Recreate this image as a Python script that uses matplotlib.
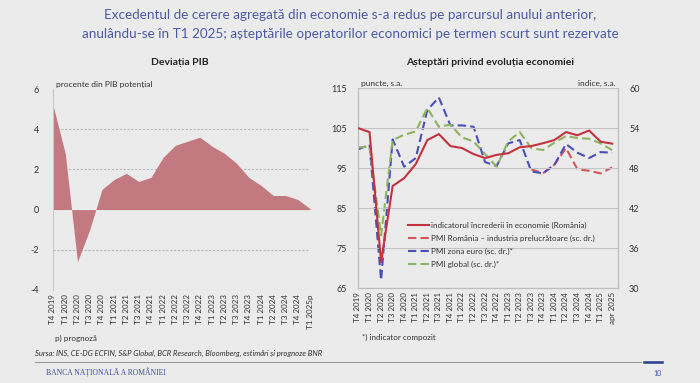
import numpy as np
import matplotlib
matplotlib.use("Agg")
import matplotlib.pyplot as plt

plt.rcParams['font.family'] = ['Lato', 'DejaVu Sans']
plt.rcParams['axes.unicode_minus'] = False

# Deviatia PIB (procente din PIB potential)
gap_labels = ['T4 2019', 'T1 2020', 'T2 2020', 'T3 2020', 'T4 2020',
              'T1 2021', 'T2 2021', 'T3 2021', 'T4 2021',
              'T1 2022', 'T2 2022', 'T3 2022', 'T4 2022',
              'T1 2023', 'T2 2023', 'T3 2023', 'T4 2023',
              'T1 2024', 'T2 2024', 'T3 2024', 'T4 2024', 'T1 2025p']
gap_values = [5.2, 2.8, -2.6, -1.0, 1.0, 1.5, 1.8, 1.4, 1.6, 2.6, 3.2,
              3.4, 3.6, 3.15, 2.8, 2.3, 1.6, 1.2, 0.7, 0.7, 0.5, 0.05]

# Asteptari privind evolutia economiei
exp_labels = ['T4 2019', 'T1 2020', 'T2 2020', 'T3 2020', 'T4 2020',
              'T1 2021', 'T2 2021', 'T3 2021', 'T4 2021',
              'T1 2022', 'T2 2022', 'T3 2022', 'T4 2022',
              'T1 2023', 'T2 2023', 'T3 2023', 'T4 2023',
              'T1 2024', 'T2 2024', 'T3 2024', 'T4 2024', 'T1 2025', 'apr 2025']
esi_ro = [105, 104, 71.5, 90.5, 92.5, 96, 102, 103.5, 100.5, 100, 98.5,
          97.5, 98.3, 98.7, 100.2, 100.5, 101.2, 102, 104, 103.2, 104.4, 101.6, 101.1]
pmi_ro_idx = [15, 16, 17, 18, 19, 20, 21, 22]
pmi_ro = [47.8, 47.2, 48.5, 51.0, 47.8, 47.6, 47.2, 48.1]
pmi_euro = [50.8, 51.5, 31.2, 52.3, 48.2, 49.5, 56.7, 58.6, 54.4, 54.4, 54.2,
            48.9, 48.3, 51.7, 52.2, 47.5, 47.2, 48.5, 51.6, 50.3, 49.5, 50.4, 50.3]
pmi_global = [51.1, 51.2, 37.9, 52.2, 53.0, 53.5, 57.0, 54.2, 54.5, 52.6, 52.0,
              50.1, 48.2, 52.0, 53.4, 51.0, 50.7, 51.8, 52.8, 52.5, 52.4, 51.7, 50.7]

bg = '#ebebeb'
red = '#c4323e'
fill_col = '#c27a80'
blue = '#4a4fb6'
green = '#8db35f'
red_d = '#d4565a'
grid_col = '#b8b8b8'
tick_col = '#333333'

fig = plt.figure(figsize=(7, 3.83), dpi=100, facecolor=bg)

fig.text(0.5, 0.962, 'Excedentul de cerere agregată din economie s-a redus pe parcursul anului anterior,',
         ha='center', va='center', fontsize=9.7, color='#4d5aa6')
fig.text(0.5, 0.912, 'anulându-se în T1 2025; așteptările operatorilor economici pe termen scurt sunt rezervate',
         ha='center', va='center', fontsize=9.7, color='#4d5aa6')

# left panel
ax1 = fig.add_axes([0.0757, 0.243, 0.3672, 0.5246], facecolor=bg)
x1 = np.arange(len(gap_values))
ax1.fill_between(x1, gap_values, 0, color=fill_col, lw=0)
ax1.set_xlim(0, len(gap_values) - 1)
ax1.set_ylim(-4, 6)
ax1.set_yticks([-4, -2, 0, 2, 4, 6])
ax1.set_xticks(x1)
ax1.set_xticklabels(gap_labels, rotation=90, fontsize=5.8, color=tick_col)
for y in [-2, 2, 4]:
    ax1.axhline(y, color=grid_col, lw=0.8, ls=(0, (2, 1.5)), zorder=0)
ax1.axhline(-4, color=grid_col, lw=0.8)
ax1.tick_params(axis='y', length=0, labelsize=6.5, labelcolor=tick_col, pad=10)
ax1.tick_params(axis='x', length=0, pad=3)
for s in ['top', 'right', 'bottom']:
    ax1.spines[s].set_visible(False)
ax1.spines['left'].set_color('#c8c8c8')
ax1.text(0.01, 1.005, 'procente din PIB potențial', transform=ax1.transAxes,
         fontsize=6, color=tick_col, va='bottom')
fig.text(0.257, 0.838, 'Deviația PIB', ha='center', va='center', fontsize=7.5,
         fontweight='bold', color='#222222')

# right panel
ax2 = fig.add_axes([0.5114, 0.248, 0.3714, 0.522], facecolor=bg)
x2 = np.arange(len(esi_ro))
ax2.set_xlim(0, len(esi_ro) - 0.5)
ax2.set_ylim(65, 115)
ax2.set_yticks([65, 75, 85, 95, 105, 115])
ax2.grid(axis='y', color='#c4c4c4', lw=0.8)
ax2.set_axisbelow(True)
ax3 = ax2.twinx()
ax3.set_ylim(30, 60)
ax3.set_yticks([30, 36, 42, 48, 54, 60])

l1, = ax2.plot(x2, esi_ro, color=red, lw=1.5, zorder=5)
l2, = ax3.plot(pmi_ro_idx, pmi_ro, color=red_d, lw=1.5, ls=(0, (4, 2)))
l3, = ax3.plot(x2, pmi_euro, color=blue, lw=1.5, ls=(0, (4, 2)))
l4, = ax3.plot(x2, pmi_global, color=green, lw=1.5, ls=(0, (4, 2)))
ax2.set_zorder(ax3.get_zorder() + 1)
ax2.patch.set_visible(False)
ax3.patch.set_facecolor(bg)

ax2.set_xticks(x2)
ax2.set_xticklabels(exp_labels, rotation=90, fontsize=5.8, color=tick_col)
ax2.tick_params(axis='x', length=0, pad=3)
ax2.tick_params(axis='y', length=0, labelsize=6.5, labelcolor=tick_col, pad=8)
ax3.tick_params(axis='y', length=0, labelsize=6.5, labelcolor=tick_col, pad=8)
for a in [ax2, ax3]:
    a.spines['top'].set_visible(False)
    for s in ['left', 'right', 'bottom']:
        a.spines[s].set_color('#bdbdbd')
ax2.text(0.01, 1.005, 'puncte, s.a.', transform=ax2.transAxes, fontsize=6,
         color=tick_col, va='bottom')
ax2.text(0.99, 1.005, 'indice, s.a.', transform=ax2.transAxes, fontsize=6,
         color=tick_col, va='bottom', ha='right')
fig.text(0.70, 0.838, 'Așteptări privind evoluția economiei', ha='center', va='center',
         fontsize=7.5, fontweight='bold', color='#222222')

leg = ax2.legend([l1, l2, l3, l4],
                 ['indicatorul încrederii în economie (România)',
                  'PMI România – industria prelucrătoare (sc. dr.)',
                  'PMI zona euro (sc. dr.)*',
                  'PMI global (sc. dr.)*'],
                 loc='lower left', bbox_to_anchor=(0.17, 0.07), frameon=False,
                 fontsize=5.8, handlelength=2.6, handletextpad=0.3, labelspacing=0.75,
                 borderaxespad=0.3)
for t in leg.get_texts():
    t.set_color(tick_col)

# notes and footer
fig.text(0.079, 0.117, 'p) prognoză', fontsize=5.8, color=tick_col, va='center')
fig.text(0.517, 0.12, '*) indicator compozit', fontsize=5.8, color=tick_col, va='center')
fig.text(0.05, 0.078, 'Sursa: INS, CE-DG ECFIN, S&P Global, BCR Research, Bloomberg, estimări și prognoze BNR',
         fontsize=5.5, style='italic', color=tick_col, va='center')
fig.add_artist(plt.Line2D([0.05, 0.915], [0.055, 0.055], color='#9a9a9a', lw=0.8))
fig.add_artist(plt.Line2D([0.92, 0.945], [0.055, 0.055], color='#2a3f8f', lw=1.8))
fig.text(0.065, 0.028, 'BANCA NAȚIONALĂ A ROMÂNIEI', fontsize=5.5, color='#3b4f9e',
         va='center', family='Liberation Serif')
fig.text(0.94, 0.024, '10', fontsize=5, color='#3b4f9e', va='center', ha='center')

plt.savefig('out.png', dpi=100, facecolor=bg)
